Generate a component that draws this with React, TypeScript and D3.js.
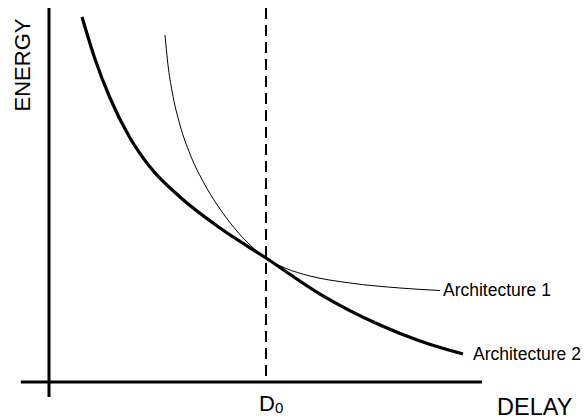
import React from "react";
import * as d3 from "d3";

// Energy / delay trade-off curves for two architectures
const delayArch1 = [2.679, 2.748, 2.841, 3.025, 3.256, 3.603, 4.065, 4.527, 5.012, 5.45, 6.028, 6.952, 8.106, 9.03];
const energyArch1 = [9.303, 8.499, 7.802, 6.89, 6.113, 5.282, 4.45, 3.807, 3.324, 3.056, 2.842, 2.654, 2.52, 2.453];

const delayArch2 = [0.762, 1.062, 1.409, 1.871, 2.333, 3.025, 3.949, 5.012, 6.259, 7.644, 8.568, 9.561];
const energyArch2 = [9.786, 8.66, 7.614, 6.542, 5.764, 4.96, 4.129, 3.324, 2.359, 1.528, 1.099, 0.751];

const seriesNames = ["Architecture 1", "Architecture 2"];
const axisTitles = { x: "DELAY", y: "ENERGY" };
const d0Value = 5.012;

const W = 586;
const H = 420;
const FONT = "'Liberation Sans', Arial, Helvetica, sans-serif";

export default function App() {
  const x = d3.scaleLinear().domain([0, 10]).range([49, 482]);
  const y = d3.scaleLinear().domain([0, 10]).range([382, 9]);

  const line = d3
    .line<[number, number]>()
    .x((d) => x(d[0]))
    .y((d) => y(d[1]))
    .curve(d3.curveMonotoneX);

  const arch1 = delayArch1.map((d, i) => [d, energyArch1[i]] as [number, number]);
  const arch2 = delayArch2.map((d, i) => [d, energyArch2[i]] as [number, number]);
  const end1 = arch1[arch1.length - 1];
  const end2 = arch2[arch2.length - 1];

  return (
    <svg
      width={W}
      height={H}
      style={{ position: "absolute", left: 0, top: 0, background: "#fff" }}
      fontFamily={FONT}
    >
      {/* axes */}
      <line x1={x(0)} x2={x(0)} y1={y(10.03)} y2={y(-0.4)} stroke="#000" strokeWidth={3} />
      <line x1={x(-0.65)} x2={x(10)} y1={y(0)} y2={y(0)} stroke="#000" strokeWidth={3} />

      {/* D0 marker */}
      <line
        x1={x(d0Value)}
        x2={x(d0Value)}
        y1={y(10.03)}
        y2={y(0)}
        stroke="#000"
        strokeWidth={2}
        strokeDasharray="11,6"
      />

      {/* curves */}
      <path d={line(arch1) ?? ""} fill="none" stroke="#000" strokeWidth={1} />
      <path d={line(arch2) ?? ""} fill="none" stroke="#000" strokeWidth={3.2} />

      {/* curve labels */}
      <text x={x(end1[0]) + 3} y={y(end1[1]) + 1} fontSize={17.5} dominantBaseline="middle">
        {seriesNames[0]}
      </text>
      <text x={x(end2[0]) + 10} y={y(end2[1]) + 1} fontSize={17.5} dominantBaseline="middle">
        {seriesNames[1]}
      </text>

      {/* axis titles */}
      <text x={x(d0Value) - 7} y={411} fontSize={22}>
        D<tspan fontSize={15} dy={2}>0</tspan>
      </text>
      <text x={497} y={415} fontSize={23.5}>
        {axisTitles.x}
      </text>
      <text
        transform={`translate(30, 65) rotate(-90)`}
        fontSize={22}
        textAnchor="middle"
      >
        {axisTitles.y}
      </text>
    </svg>
  );
}
